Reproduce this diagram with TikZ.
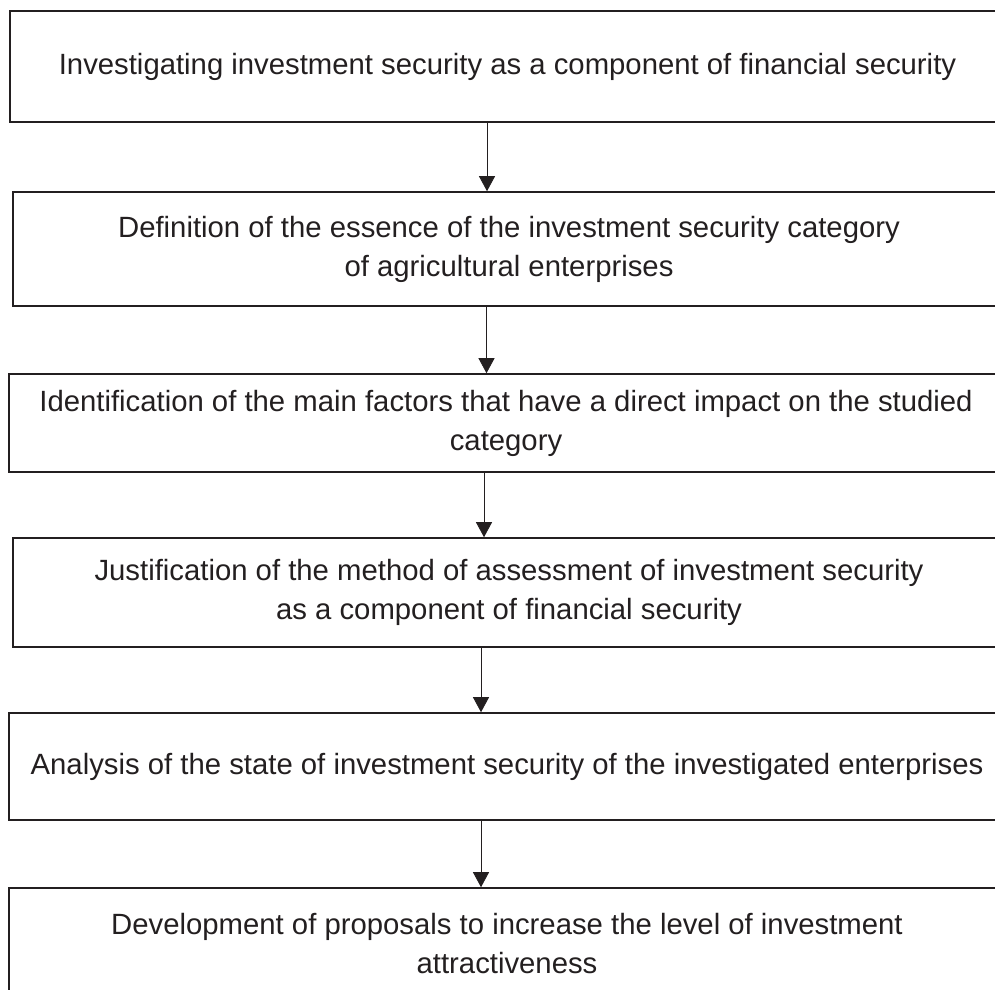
\documentclass[tikz,border=0pt]{standalone}
\usepackage{fontspec}
\setmainfont{Liberation Sans}
\usetikzlibrary{arrows.meta}
\definecolor{ink}{HTML}{231F20}
\tikzset{
  stage/.style={draw=ink, line width=1.6pt, align=center, text=ink,
    font=\fontsize{29.3}{39}\selectfont, inner sep=0pt},
  flow/.style={draw=ink, line width=0.8pt, -{Triangle[width=16pt,length=15pt]}}
}
\begin{document}
\begin{tikzpicture}[x=1pt,y=-1pt]
\useasboundingbox (0,0) rectangle (995,989);
\clip (0,0) rectangle (995,989);
\node (s1) at (507.5, 66.5) [stage, minimum width=995pt, minimum height=111pt] {Investigating investment security as a component of financial security};
\node (s2) at (509, 249) [stage, minimum width=992pt, minimum height=114pt] {Definition of the essence of the investment security category\\of agricultural enterprises};
\node (s3) at (506, 423) [stage, minimum width=994pt, minimum height=98pt] {Identification of the main factors that have a direct impact on the studied\\category};
\node (s4) at (509, 592.5) [stage, minimum width=992pt, minimum height=109pt] {Justification of the method of assessment of investment security\\as a component of financial security};
\node (s5) at (507, 766.5) [stage, minimum width=996pt, minimum height=107pt] {Analysis of the state of investment security of the investigated enterprises};
\node (s6) at (507, 944) [stage, minimum width=996pt, minimum height=112pt] {Development of proposals to increase the level of investment\\attractiveness};
% the arrows sit a little left of the box centres
\coordinate (a1) at (487, 0);
\coordinate (a2) at (486.5, 0);
\coordinate (a3) at (484, 0);
\coordinate (a4) at (481, 0);
\coordinate (a5) at (481, 0);
\draw[flow] (s1.south -| a1) -- (s2.north -| a1);
\draw[flow] (s2.south -| a2) -- (s3.north -| a2);
\draw[flow] (s3.south -| a3) -- (s4.north -| a3);
\draw[flow] (s4.south -| a4) -- (s5.north -| a4);
\draw[flow] (s5.south -| a5) -- (s6.north -| a5);
\end{tikzpicture}
\end{document}
